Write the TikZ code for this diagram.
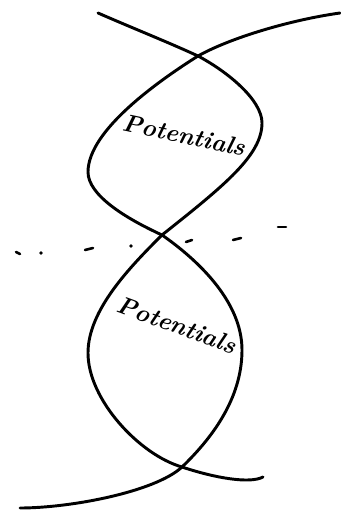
\documentclass[tikz,border=0pt]{standalone}
\usetikzlibrary{positioning}

\begin{document}
\begin{tikzpicture}[x=0.03cm, y=-0.03cm,
    strand/.style={line width=2.5pt, line cap=round, line join=round},
    tick/.style={line width=2.2pt, line cap=round},
    scrawl/.style={font=\fontsize{21}{23}\selectfont\bfseries\itshape, inner sep=0pt}
]
    \useasboundingbox (0,0) rectangle (340,513);

    % the three crossings and the bulges
    \coordinate (xt) at (198,56);
    \coordinate (xm) at (162,235);
    \coordinate (xb) at (182,467);
    \coordinate (ur) at (262,123);
    \coordinate (ul) at (88,172);
    \coordinate (lr) at (242,350);
    \coordinate (ll) at (88,353);

    % strand starting top left
    \draw[strand] (98,13) .. controls (130,27) and (170,43) .. (xt)
        .. controls (228,72) and (262,100) .. (ur)
        .. controls (262,155) and (225,185) .. (xm)
        .. controls (130,267) and (88,310) .. (ll)
        .. controls (88,400) and (140,455) .. (xb)
        .. controls (215,478) and (250,484) .. (263,477);
    % strand starting top right
    \draw[strand] (340,13) .. controls (290,20) and (230,38) .. (xt)
        .. controls (160,80) and (88,130) .. (ul)
        .. controls (88,195) and (125,218) .. (xm)
        .. controls (195,258) and (242,300) .. (lr)
        .. controls (242,400) and (210,440) .. (xb)
        .. controls (155,492) and (70,508) .. (20,508);

    % dotted line across the middle
    \draw[tick] (16,252) -- (20,254);
    \fill (41,253) circle (1.8);
    \draw[tick] (85,250) -- (93,248);
    \fill (131,246) circle (1.8);
    \draw[tick] (186,242) -- (192,240);
    \draw[tick] (233,240) -- (241,238);
    \draw[tick] (278,227) -- (286,227);

    \node[scrawl, rotate=-12] (upper) at (184,135) {Potentials};
    \node[scrawl, rotate=-20] (lower) at (177,325) {Potentials};
\end{tikzpicture}
\end{document}
